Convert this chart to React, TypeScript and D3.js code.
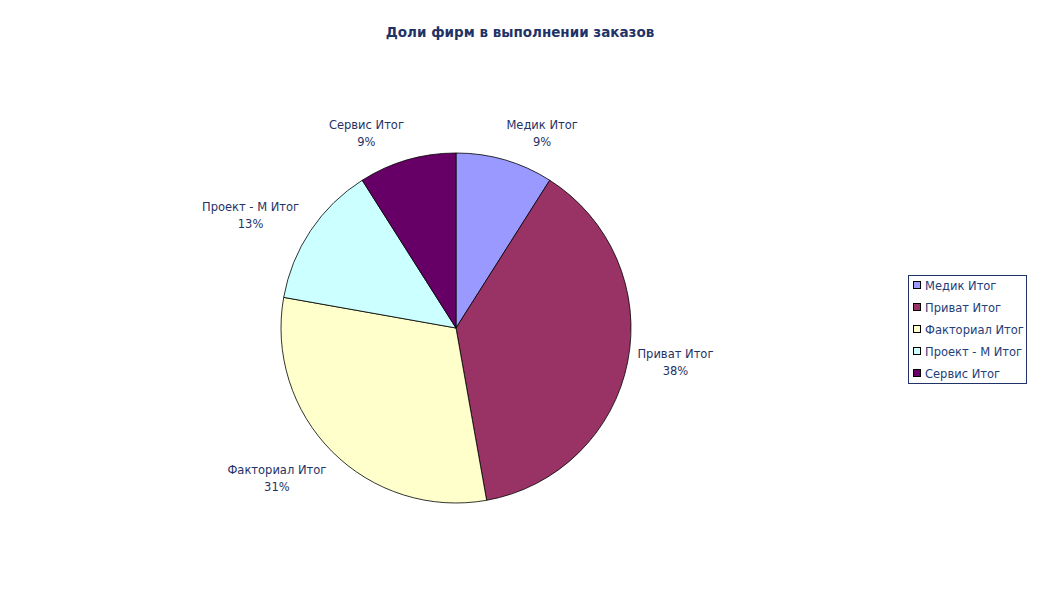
import React from "react";
import * as d3 from "d3";

const categories = ["Медик Итог", "Приват Итог", "Факториал Итог", "Проект - М Итог", "Сервис Итог"];
const values = [9.0, 38.2, 30.6, 13.2, 9.0];
const colors = ["#9999FF", "#993366", "#FFFFCC", "#CCFFFF", "#660066"];
const title = "Доли фирм в выполнении заказов";

const W = 1038, H = 605;
const cx = 456, cy = 328, R = 175;
const FONT = "'DejaVu Sans', Verdana, sans-serif";
const TEXT = "#1F3366";

export default function App() {
  const total = d3.sum(values);
  const pie = d3.pie<number>().sort(null).value((d) => d)(values);
  const arc = d3.arc<d3.PieArcDatum<number>>().innerRadius(0).outerRadius(R);
  const fmt = (v: number) => `${Math.round((v / total) * 100)}%`;

  return (
    <svg width={W} height={H} style={{ position: "absolute", left: 0, top: 0, background: "#fff" }}>
      <text x={520} y={37} textAnchor="middle" fontFamily={FONT} fontWeight="bold" fontSize={13.5} fill="#1F3366">{title}</text>
      <g transform={`translate(${cx},${cy})`}>
        {pie.map((p, i) => (
          <path key={i} d={arc(p) || ""} fill={colors[i]} stroke="#000" strokeWidth={0.8} />
        ))}
      </g>
      {pie.map((p, i) => {
        const a = (p.startAngle + p.endAngle) / 2;
        const s = Math.sin(a), c = Math.cos(a);
        const w = categories[i].length * 6.9;
        const h = 36;
        const x = cx + (R + 10) * s + Math.sign(s) * w / 2;
        const y = cy - (R + 10) * c - c * h / 2 + (c < -0.5 ? 6 : c > -0.3 && c < 0 ? -5 : 0);
        return (
          <text key={i} textAnchor="middle" fontFamily={FONT} fontSize={11.5} fill={TEXT}>
            <tspan x={x} y={y - 4}>{categories[i]}</tspan>
            <tspan x={x} y={y + 13}>{fmt(values[i])}</tspan>
          </text>
        );
      })}
      <g>
        <rect x={908.5} y={275.5} width={118} height={108} fill="#fff" stroke="#1F3366" strokeWidth={1} />
        {categories.map((c, i) => (
          <g key={i} transform={`translate(913,${285 + i * 22})`}>
            <rect x={0.5} y={-3.5} width={7} height={7} fill={colors[i]} stroke="#000" strokeWidth={1} />
            <text x={12} y={4.5} fontFamily={FONT} fontSize={11.5} fill="#24407A">{c}</text>
          </g>
        ))}
      </g>
    </svg>
  );
}
